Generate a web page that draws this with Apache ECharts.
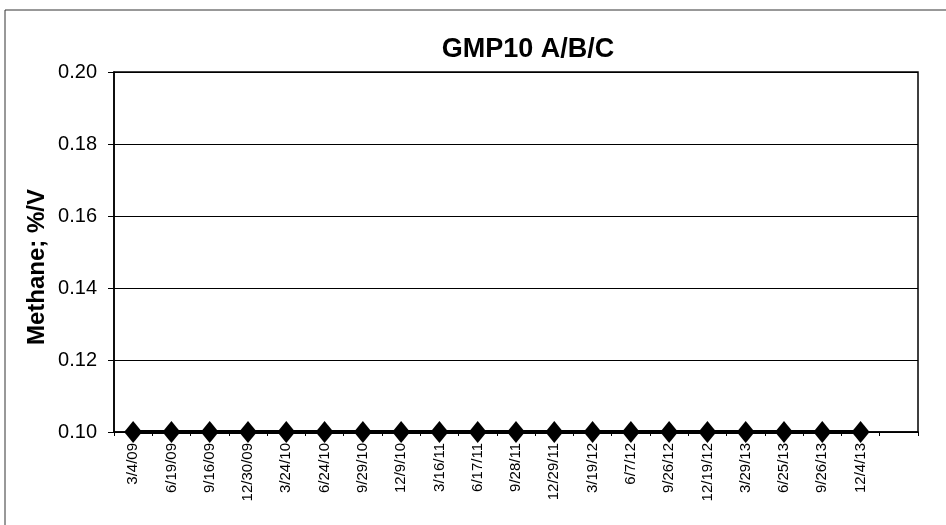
<!DOCTYPE html>
<html>
<head>
<meta charset="utf-8">
<script src="https://cdn.jsdelivr.net/npm/echarts@6/dist/echarts.min.js"></script>
<style>
html,body{margin:0;padding:0;background:#fff;}
#c{width:946px;height:525px;}
</style>
</head>
<body>
<div id="c"></div>
<script>
var categories = ['3/4/09','6/19/09','9/16/09','12/30/09','3/24/10','6/24/10','9/29/10','12/9/10','3/16/11','6/17/11','9/28/11','12/29/11','3/19/12','6/7/12','9/26/12','12/19/12','3/29/13','6/25/13','9/26/13','12/4/13',''];
var methane = [0.10,0.10,0.10,0.10,0.10,0.10,0.10,0.10,0.10,0.10,0.10,0.10,0.10,0.10,0.10,0.10,0.10,0.10,0.10,0.10,null];
var yTicks = {min:0.10, max:0.20, interval:0.02};
var titleText = 'GMP10 A/B/C';
var yName = 'Methane; %/V';

var chart = echarts.init(document.getElementById('c'));
chart.setOption({
  animation:false,
  backgroundColor:'#fff',
  title:{text:titleText,left:523,top:31,textAlign:'center',
    textStyle:{fontFamily:'Liberation Sans, Arial',fontSize:27,fontWeight:'bold',color:'#000'}},
  graphic:[
    {type:'rect',shape:{x:5,y:10,width:960,height:530},
      style:{fill:'none',stroke:'#333',lineWidth:1},silent:true},
    {type:'text',x:37,y:267,rotation:Math.PI/2,silent:true,
      style:{text:yName,fontFamily:'Liberation Sans, Arial',fontSize:24,fontWeight:'bold',fill:'#000',align:'center',verticalAlign:'middle'}}
  ],
  grid:{left:114,right:28,top:72,bottom:93,show:true,borderColor:'#000',borderWidth:1.5,backgroundColor:'transparent'},
  xAxis:{type:'category',data:categories,boundaryGap:true,
    axisLine:{lineStyle:{color:'#000',width:1.5}},
    axisTick:{show:true,length:4,lineStyle:{color:'#000'}},
    axisLabel:{rotate:90,interval:0,fontFamily:'Liberation Sans, Arial',fontSize:15,color:'#000',margin:11}},
  yAxis:{type:'value',min:yTicks.min,max:yTicks.max,interval:yTicks.interval,
    axisLine:{show:true,lineStyle:{color:'#000',width:1.5}},
    axisTick:{show:true,length:6,lineStyle:{color:'#000'}},
    splitLine:{lineStyle:{color:'#000',width:1}},
    axisLabel:{formatter:function(v){return v.toFixed(2);},fontFamily:'Liberation Sans, Arial',fontSize:20,color:'#000',margin:17}},
  series:[{type:'line',name:'GMP10',data:methane,symbol:'diamond',symbolSize:[18,22],
    lineStyle:{color:'#000',width:4},itemStyle:{color:'#000'}}]
});
</script>
</body>
</html>
